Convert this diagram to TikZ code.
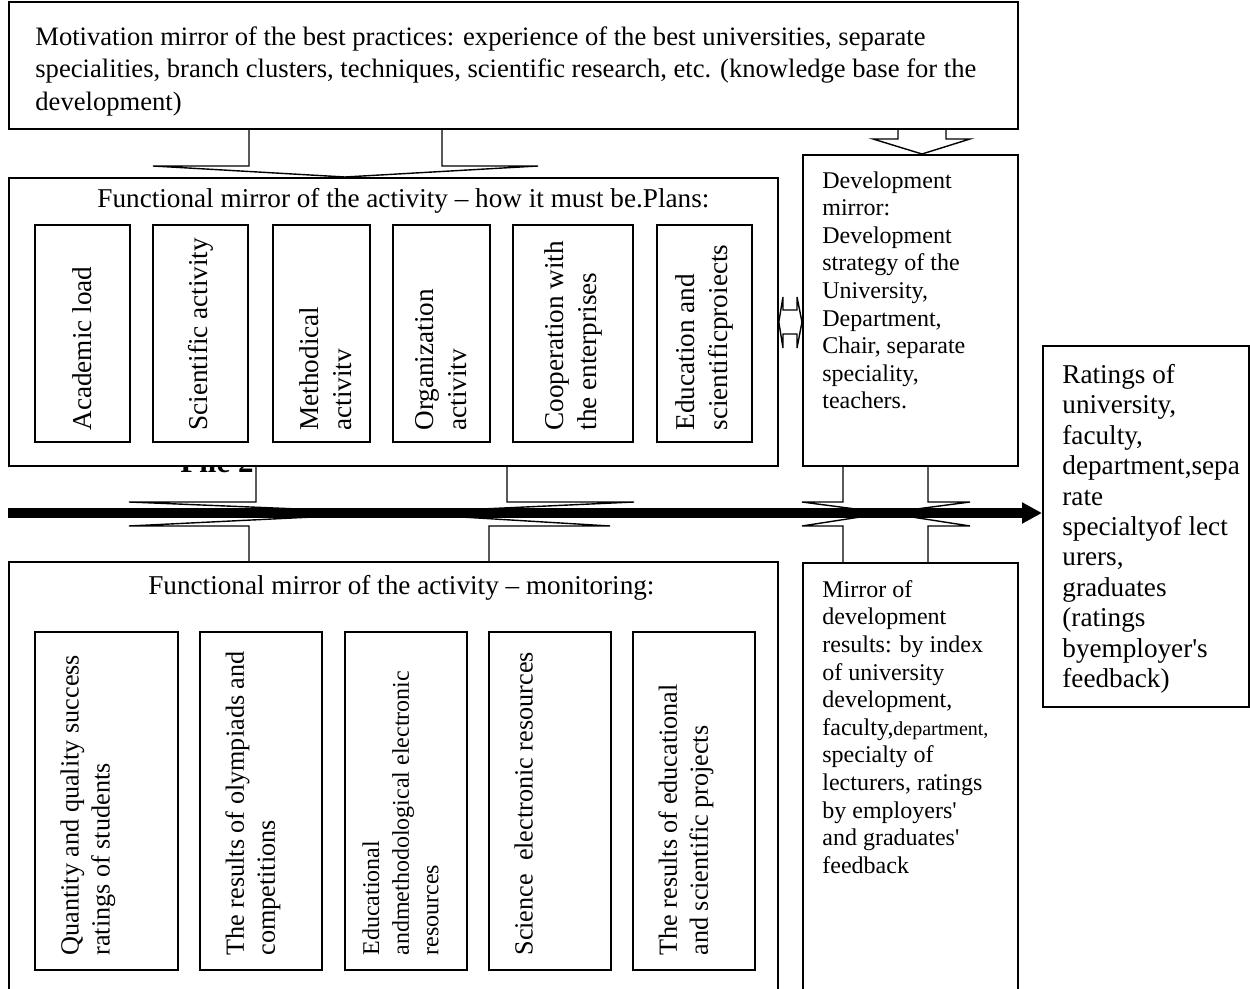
\documentclass[tikz,border=0pt]{standalone}
\usepackage{fontspec}
\setmainfont{Liberation Serif}
\usetikzlibrary{arrows.meta, positioning, calc, backgrounds}

\newcommand{\mirrorfont}{\fontsize{13.3}{16.3}\selectfont}
\newcommand{\titlefont}{\fontsize{13.6}{16.3}\selectfont}
\newcommand{\itemfont}{\fontsize{13.6}{16.5}\selectfont}
\newcommand{\monitemfont}{\fontsize{13.1}{15.5}\selectfont}
\newcommand{\smallitemfont}{\fontsize{12}{14.8}\selectfont}
\newcommand{\devfont}{\fontsize{12}{13.8}\selectfont}
\newcommand{\ratefont}{\fontsize{13.6}{15.2}\selectfont}

\tikzset{
  mirrorbox/.style={rectangle, draw, line width=0.9pt, fill=white, inner sep=0pt,
                    anchor=north west},
  itembox/.style={rectangle, draw, line width=0.9pt, fill=white, inner sep=0pt},
  itemtext/.style={rotate=90, align=left, inner sep=0pt, font=\itemfont},
  boxtext/.style={anchor=north west, align=left, inner sep=0pt},
  blockarrow/.style={draw, fill=white, line width=0.7pt, line join=miter},
  mainflow/.style={line width=5pt, -{Triangle[length=10pt,width=10pt]}},
}

\begin{document}
\begin{tikzpicture}[x=0.5pt, y=-0.5pt]
  \useasboundingbox (0,0) rectangle (1250,989);

  % --- knowledge base on top ---
  \node[mirrorbox, minimum width=504.5pt, minimum height=63.5pt] (motiv) at (8,1) {};
  \node[boxtext, font=\mirrorfont] (motivtext) at ([xshift=13.5pt, yshift=-12.5pt]motiv.north west)
       {Motivation mirror of the best practices: experience of the best universities, separate\\
        specialities, branch clusters, techniques, scientific research, etc. (knowledge base for the\\
        development)};

  % --- plans ---
  \node[mirrorbox, minimum width=384.5pt, minimum height=144pt] (plans) at (8,177) {};
  \node[font=\titlefont] (planstitle) at ([xshift=5pt, yshift=-12pt]plans.north)
       {Functional mirror of the activity – how it must be.Plans:};

  \node[itembox, minimum width=47.5pt, minimum height=108.5pt] (load) at (82.5,333.5) {};
  \node[itembox, minimum width=47.5pt, minimum height=108.5pt] (science) at (200.5,333.5) {};
  \node[itembox, minimum width=48.5pt, minimum height=108.5pt] (method) at (321.5,333.5) {};
  \node[itembox, minimum width=48.5pt, minimum height=108.5pt] (organ) at (441.5,333.5) {};
  \node[itembox, minimum width=60pt, minimum height=108.5pt] (coop) at (573,333.5) {};
  \node[itembox, minimum width=47.5pt, minimum height=108.5pt] (eduproj) at (704.5,333.5) {};

  \node[itemtext, anchor=west] (loadtext) at ([yshift=6pt]load.south) {Academic load};
  \node[itemtext, anchor=west] (sciencetext) at ([yshift=6pt]science.south) {Scientific activity};
  \node[itemtext, anchor=west] (methodtext) at ([xshift=2pt, yshift=6pt]method.south) {Methodical\\activitv};
  \node[itemtext, anchor=west] (organtext) at ([yshift=6pt]organ.south) {Organization\\activitv};
  \node[itemtext, anchor=west] (cooptext) at ([yshift=6pt]coop.south) {Cooperation with\\the enterprises};
  \node[itemtext, anchor=west] (eduprojtext) at ([yshift=6pt]eduproj.south) {Education and\\scientificproiects};

  % --- development mirror ---
  \node[mirrorbox, minimum width=107.5pt, minimum height=155.5pt] (devplan) at (802,154) {};
  \node[boxtext, font=\devfont] (devplantext) at ([xshift=10pt, yshift=-8.5pt]devplan.north west)
       {Development\\mirror:\\Development\\strategy of the\\University,\\Department,\\Chair, separate\\
        speciality,\\teachers.};

  % --- monitoring ---
  \node[mirrorbox, minimum width=384.5pt, minimum height=217pt] (monitor) at (8,561) {};
  \node[font=\titlefont] (monitortitle) at ([xshift=4pt, yshift=-13.5pt]monitor.north)
       {Functional mirror of the activity – monitoring:};

  \node[itembox, minimum width=71.5pt, minimum height=169pt] (quant) at (106.5,801) {};
  \node[itembox, minimum width=61pt, minimum height=169pt] (olymp) at (261,801) {};
  \node[itembox, minimum width=61pt, minimum height=169pt] (eduel) at (406,801) {};
  \node[itembox, minimum width=61pt, minimum height=169pt] (sciel) at (550,801) {};
  \node[itembox, minimum width=61pt, minimum height=169pt] (projres) at (694,801) {};

  \node[itemtext, anchor=north west, font=\monitemfont] (quanttext)
       at ([xshift=13pt, yshift=7.5pt]quant.south west) {Quantity and quality success\\ratings of students};
  \node[itemtext, anchor=north west, font=\monitemfont] (olymptext)
       at ([xshift=13pt, yshift=7.5pt]olymp.south west) {The results of olympiads and\\competitions};
  \node[itemtext, anchor=north west, font=\smallitemfont] (eduelt)
       at ([xshift=9pt, yshift=7.5pt]eduel.south west) {Educational\\andmethodological electronic\\resources};
  \node[itemtext, anchor=north west, font=\monitemfont] (scieltext)
       at ([xshift=13pt, yshift=7.5pt]sciel.south west) {Science\ \ electronic resources};
  \node[itemtext, anchor=north west, font=\monitemfont] (projrestext)
       at ([xshift=13pt, yshift=7.5pt]projres.south west) {The results of educational\\and scientific projects};

  % --- development results and ratings ---
  \node[mirrorbox, minimum width=107.5pt, minimum height=217pt] (devres) at (802,562) {};
  \node[boxtext, font=\devfont] (devrestext) at ([xshift=10pt, yshift=-9pt]devres.north west)
       {Mirror of\\development\\results: by index\\of university\\development,\\
        faculty,{\fontsize{10}{13.8}\selectfont department,}\\specialty of\\lecturers, ratings\\
        by employers\textquotesingle\\and graduates\textquotesingle\\feedback};

  \node[mirrorbox, minimum width=103pt, minimum height=180.5pt] (ratings) at (1042,345) {};
  \node[boxtext, font=\ratefont] (ratingstext) at ([xshift=10pt, yshift=-9.5pt]ratings.north west)
       {Ratings of\\university,\\faculty,\\department,sepa\\rate\\specialtyof lect\\urers,\\graduates\\
        (ratings\\byemployer\textquotesingle s\\feedback)};

  % --- block arrows, under the boxes ---
  \begin{scope}[on background layer]
    \node[anchor=base west, inner sep=0pt, font=\fontsize{15.5}{18}\selectfont\bfseries] (figcap)
         at (180,473) {File 2};
    \draw[blockarrow] (249,0 |- motiv.south) -- (249,166) -- (153,166) -- (345,0 |- plans.north)
                      -- (538,166) -- (442,166) -- (442,0 |- motiv.south);
    \draw[blockarrow] (898,0 |- motiv.south) -- (898,139) -- (873,139) -- (922,0 |- devplan.north)
                      -- (970,139) -- (946,139) -- (946,0 |- motiv.south);
    \draw[blockarrow] (plans.east |- 0,322) -- (783,297) -- (783,310) -- (797,310) -- (797,297)
                      -- (devplan.west |- 0,322) -- (797,348) -- (797,334) -- (783,334) -- (783,348) -- cycle;
    \draw[blockarrow] (256,0 |- plans.south) -- (256,502) -- (129,502) -- (395,513)
                      -- (634,502) -- (507,502) -- (507,0 |- plans.south);
    \draw[blockarrow] (249,0 |- monitor.north) -- (249,526) -- (129,526) -- (395,513)
                      -- (610,526) -- (489,526) -- (489,0 |- monitor.north);
    \draw[blockarrow] (843,0 |- devplan.south) -- (843,502) -- (802,502) -- (886,513)
                      -- (970,502) -- (928,502) -- (928,0 |- devplan.south);
    \draw[blockarrow] (843,0 |- devres.north) -- (843,526) -- (802,526) -- (886,513)
                      -- (970,526) -- (928,526) -- (928,0 |- devres.north);
  \end{scope}

  % --- main axis ---
  \coordinate (axisstart) at (8,513);
  \draw[mainflow] (axisstart) -- (ratings.west |- axisstart);

\end{tikzpicture}
\end{document}
